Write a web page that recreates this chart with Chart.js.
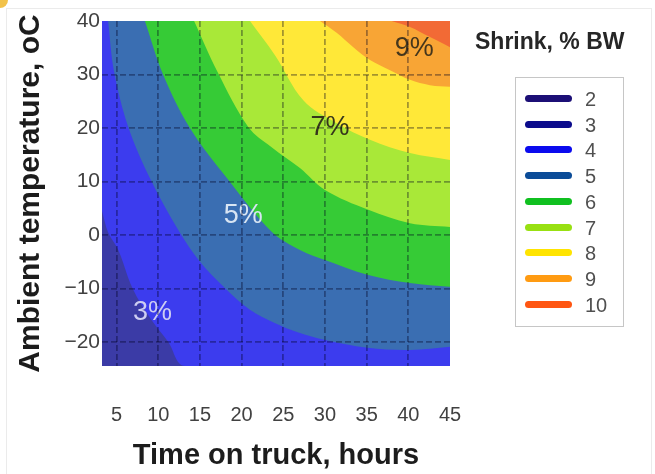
<!DOCTYPE html>
<html><head><meta charset="utf-8">
<script src="https://cdn.jsdelivr.net/npm/chart.js@4"></script>
<style>
html,body{margin:0;padding:0;background:#fff;}
#wrap{position:relative;width:655px;height:474px;overflow:hidden;font-family:"Liberation Sans",Arial,sans-serif;background:#fff;}
#c{position:absolute;left:0;top:0;}
#frame{position:absolute;left:6px;top:8px;width:646px;height:470px;border:1px solid #ebebeb;box-sizing:border-box;}
#blob{position:absolute;left:-8px;top:-8px;width:16px;height:16px;border-radius:50%;background:#f2c24a;}
#legTitle{position:absolute;left:475px;top:28px;font-weight:bold;font-size:23px;line-height:27px;color:#262626;white-space:nowrap;}
#legBox{position:absolute;left:515px;top:77px;width:109px;height:250px;border:1.5px solid #c6c6c6;box-sizing:border-box;}
.row{position:absolute;left:0;width:100%;height:24px;}
.sw{position:absolute;left:9px;top:8px;width:47px;height:7px;border-radius:3.5px;}
.lt{position:absolute;left:69px;top:0;font-size:20px;line-height:24px;color:#505050;}
</style>
</head>
<body>
<div id="wrap">
  <div id="frame"></div>
  <div id="blob"></div>
  <canvas id="c" width="655" height="474"></canvas>
  <div id="legTitle">Shrink, % BW</div>
  <div id="legBox"></div>
</div>
<script>
// ---- axes ----
const xTicks = [5, 10, 15, 20, 25, 30, 35, 40, 45];
const yTicks = [-20, -10, 0, 10, 20, 30, 40];
const xMin = 3.25, xMax = 45;
const yMin = -24.5, yMax = 40;

// ---- contour levels (legend) ----
const levels = [2, 3, 4, 5, 6, 7, 8, 9, 10];
const legendColors = ['#1c0f76', '#0b0b8c', '#0b0bee', '#0b4c98', '#10c020', '#98e012', '#ffe400', '#ff9b12', '#ff5612'];
const fillColors   = ['#3e3496', '#3b3ba6', '#3c3cee', '#3a6eb2', '#36cb36', '#a9e838', '#ffe838', '#f8a535', '#f26a35'];

// ---- contour boundaries (lower edge of each band), hours vs temperature ----
const base3Hours = [3.25, 45];
const base3Temp  = [-24.5, -24.5];
const edge4Hours = [3.25, 4.0, 5.2, 6.9, 9.0, 11.2, 13.2, 45];
const edge4Temp  = [4.5, 0.4, -2.8, -9.9, -15.5, -20.0, -24.5, -24.5];
const edge5Hours = [3.98, 4.7, 6.4, 9.1, 12.6, 15.0, 18.0, 21.0, 23.9, 26.9, 29.9, 35.1, 40.2, 45];
const edge5Temp  = [40, 30.5, 20.2, 10.3, 0.4, -5.0, -9.9, -14.0, -16.4, -18.3, -19.6, -21.1, -21.5, -20.9];
const edge6Hours = [8.4, 10.6, 13.8, 18.4, 23.6, 27.0, 30.0, 35.2, 40.2, 45];
const edge6Temp  = [40, 29.9, 20.0, 10.3, 0.6, -2.8, -4.7, -7.5, -9.0, -9.7];
const edge7Hours = [14.3, 17.1, 20.8, 23.6, 27.0, 30.0, 35.2, 40.2, 45];
const edge7Temp  = [40, 30.5, 20.2, 16.4, 12.5, 8.4, 4.7, 2.2, 1.5];
const edge8Hours = [21.0, 24.0, 27.4, 31.4, 35.4, 40.2, 45];
const edge8Temp  = [40, 33.6, 25.2, 20.9, 17.8, 15.3, 14.0];
const edge9Hours = [29.4, 31.4, 33.4, 35.4, 37.8, 40.2, 42.6, 45];
const edge9Temp  = [40, 37.8, 35.1, 32.7, 30.8, 29.0, 28.0, 27.7];
const edge10Hours = [38.0, 40.2, 42.6, 45];
const edge10Temp  = [40, 38.9, 37.0, 35.1];

// ---- in-plot labels ----
const labelTexts = ['3%', '5%', '7%', '9%'];
const labelHours = [9.3, 20.2, 30.6, 40.7];
const labelTemps = [-14.5, 3.6, 20.1, 34.9];
const labelColors = ['#cdcdf2', '#d8e5f3', '#35351c', '#45361c'];

const edges = [
  [3, base3Hours, base3Temp],
  [4, edge4Hours, edge4Temp],
  [5, edge5Hours, edge5Temp],
  [6, edge6Hours, edge6Temp],
  [7, edge7Hours, edge7Temp],
  [8, edge8Hours, edge8Temp],
  [9, edge9Hours, edge9Temp],
  [10, edge10Hours, edge10Temp]
];

const datasets = edges.map(([lvl, hx, ty]) => ({
  type: 'line',
  label: String(lvl),
  data: hx.map((h, i) => ({x: h, y: ty[i]})),
  order: 100 - lvl,
  fill: 'end',
  backgroundColor: fillColors[levels.indexOf(lvl)],
  borderColor: 'rgba(0,0,0,0)',
  borderWidth: 0,
  pointRadius: 0,
  pointHoverRadius: 0,
  tension: 0.35
}));

// legend (HTML)
const box = document.getElementById('legBox');
levels.forEach((lv, i) => {
  const r = document.createElement('div');
  r.className = 'row';
  r.style.top = (9 + i * 25.7) + 'px';
  r.innerHTML = '<div class="sw" style="background:' + legendColors[i] + '"></div><div class="lt">' + lv + '</div>';
  box.appendChild(r);
});

const pctPlugin = {
  id: 'pct',
  afterDatasetsDraw(chart) {
    const {ctx, scales: {x, y}} = chart;
    ctx.save();
    ctx.font = '27px "Liberation Sans", Arial, sans-serif';
    ctx.textAlign = 'center';
    ctx.textBaseline = 'middle';
    labelTexts.forEach((t, i) => {
      ctx.fillStyle = labelColors[i];
      ctx.fillText(t, x.getPixelForValue(labelHours[i]), y.getPixelForValue(labelTemps[i]));
    });
    ctx.restore();
  }
};

const gridColor = (edgeVal) => (c) => (c.tick && c.tick.value === edgeVal) ? 'rgba(0,0,0,0)' : 'rgba(0,0,30,0.36)';
const fontFam = '"Liberation Sans", Arial, sans-serif';

new Chart(document.getElementById('c'), {
  type: 'line',
  data: {datasets},
  plugins: [pctPlugin],
  options: {
    responsive: false,
    animation: false,
    devicePixelRatio: 1,
    layout: {padding: {left: 0, right: 205, top: 21, bottom: 0}},
    plugins: {legend: {display: false}, tooltip: {enabled: false}},
    scales: {
      x: {
        type: 'linear', min: xMin, max: xMax,
        afterBuildTicks: s => { s.ticks = xTicks.map(v => ({value: v})); },
        afterFit: s => { s.height = 108; },
        ticks: {font: {family: fontFam, size: 20}, color: '#414141', padding: 37, maxRotation: 0, autoSkip: false},
        grid: {color: gridColor(xMax), lineWidth: 1.8, drawTicks: false, z: 1},
        border: {display: false, dash: [6, 3]},
        title: {display: true, text: 'Time on truck, hours', color: '#1c1c1c',
          font: {family: fontFam, size: 29, weight: 'bold'}, padding: {top: 0, bottom: 1}}
      },
      y: {
        type: 'linear', min: yMin, max: yMax,
        afterBuildTicks: s => { s.ticks = yTicks.map(v => ({value: v})); },
        afterFit: s => { s.width = 102; },
        ticks: {font: {family: fontFam, size: 21}, color: '#414141', padding: 2,
          callback: v => (v < 0 ? '\u2212' + Math.abs(v) : String(v))},
        grid: {color: gridColor(yMax), lineWidth: 1.8, drawTicks: false, z: 1},
        border: {display: false, dash: [6, 3]},
        title: {display: true, text: 'Ambient temperature, oC', color: '#1c1c1c',
          font: {family: fontFam, size: 30, weight: 'bold'}, padding: {top: 13, bottom: 0}}
      }
    }
  }
});
</script>
</body></html>
